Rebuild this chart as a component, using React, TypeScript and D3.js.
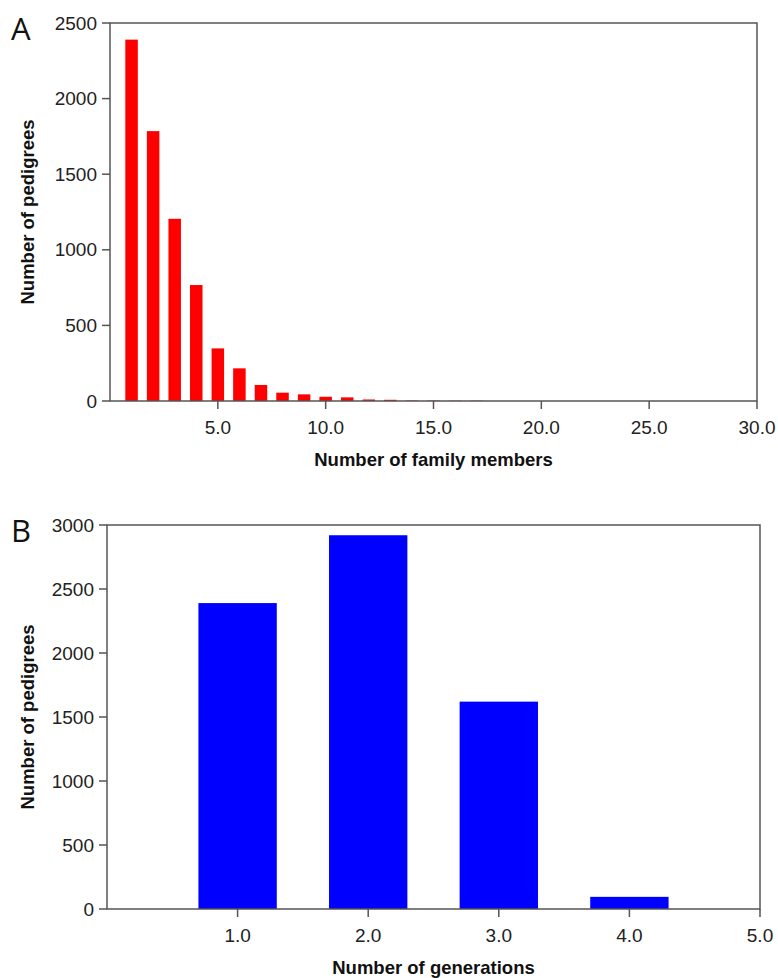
import React from 'react';
import * as d3 from 'd3';

// Panel A: pedigree size distribution
const familySizes = [1, 2, 3, 4, 5, 6, 7, 8, 9, 10, 11, 12, 13, 14, 15, 16, 17];
const familyCounts = [2390, 1785, 1205, 767, 348, 216, 106, 55, 44, 28, 24, 10, 8, 3, 3, 2, 2];
const familyXTicks = [5, 10, 15, 20, 25, 30];
const familyYTicks = [0, 500, 1000, 1500, 2000, 2500];

// Panel B: generations per pedigree
const generations = [1, 2, 3, 4];
const generationCounts = [2390, 2920, 1620, 95];
const genXTicks = [1, 2, 3, 4, 5];
const genYTicks = [0, 500, 1000, 1500, 2000, 2500, 3000];

const AXIS = '#555';
const TICK_FONT = '"Liberation Sans", Arial, sans-serif';

type PanelProps = {
  letter: string;
  xs: number[];
  ys: number[];
  xDomain: [number, number];
  yDomain: [number, number];
  xTicks: number[];
  yTicks: number[];
  box: { left: number; right: number; top: number; bottom: number };
  barWidth: number;
  color: string;
  xTitle: string;
};

const Panel = ({ letter, xs, ys, xDomain, yDomain, xTicks, yTicks, box, barWidth, color, xTitle }: PanelProps) => {
  const x = d3.scaleLinear().domain(xDomain).range([box.left, box.right]);
  const y = d3.scaleLinear().domain(yDomain).range([box.bottom, box.top]);
  const bw = x(barWidth) - x(0);
  const midY = (box.top + box.bottom) / 2;
  const midX = (box.left + box.right) / 2;

  return (
    <g>
      <text x={11} y={box.top + 17} fontFamily='"Open Sans", sans-serif' fontSize={31} fill="#111">
        {letter}
      </text>

      {xs.map((v, i) => (
        <rect
          key={v}
          x={x(v) - bw / 2}
          y={y(ys[i])}
          width={bw}
          height={y(0) - y(ys[i])}
          fill={color}
        />
      ))}

      {/* frame */}
      <rect
        x={box.left}
        y={box.top}
        width={box.right - box.left}
        height={box.bottom - box.top}
        fill="none"
        stroke={AXIS}
        strokeWidth={1.5}
      />

      {/* y ticks */}
      {yTicks.map(t => (
        <g key={t} transform={`translate(0,${y(t)})`}>
          <line x1={box.left - 8} x2={box.left} stroke={AXIS} strokeWidth={1.5} />
          <text
            x={box.left - 13}
            dy="0.35em"
            textAnchor="end"
            fontFamily={TICK_FONT}
            fontSize={19}
            fill="#222"
          >
            {t}
          </text>
        </g>
      ))}

      {/* x ticks */}
      {xTicks.map(t => (
        <g key={t} transform={`translate(${x(t)},0)`}>
          <line y1={box.bottom} y2={box.bottom + 8} stroke={AXIS} strokeWidth={1.5} />
          <text
            y={box.bottom + 33}
            textAnchor="middle"
            fontFamily={TICK_FONT}
            fontSize={19}
            fill="#222"
          >
            {d3.format('.1f')(t)}
          </text>
        </g>
      ))}

      <text
        x={midX}
        y={box.bottom + 65}
        textAnchor="middle"
        fontFamily={TICK_FONT}
        fontWeight="bold"
        fontSize={18.5}
        fill="#111"
      >
        {xTitle}
      </text>

      <text
        transform={`translate(34,${midY}) rotate(-90)`}
        textAnchor="middle"
        fontFamily={TICK_FONT}
        fontWeight="bold"
        fontSize={18.5}
        fill="#111"
      >
        Number of pedigrees
      </text>
    </g>
  );
};

export default function App() {
  return (
    <svg
      width={778}
      height={978}
      style={{ position: 'absolute', left: 0, top: 0, background: '#fff' }}
    >
      <Panel
        letter="A"
        xs={familySizes}
        ys={familyCounts}
        xDomain={[0, 30]}
        yDomain={[0, 2500]}
        xTicks={familyXTicks}
        yTicks={familyYTicks}
        box={{ left: 110, right: 757, top: 23, bottom: 401 }}
        barWidth={0.58}
        color="#ff0000"
        xTitle="Number of family members"
      />
      <Panel
        letter="B"
        xs={generations}
        ys={generationCounts}
        xDomain={[0, 5]}
        yDomain={[0, 3000]}
        xTicks={genXTicks}
        yTicks={genYTicks}
        box={{ left: 107, right: 760, top: 525, bottom: 909 }}
        barWidth={0.6}
        color="#0000ff"
        xTitle="Number of generations"
      />
    </svg>
  );
}
